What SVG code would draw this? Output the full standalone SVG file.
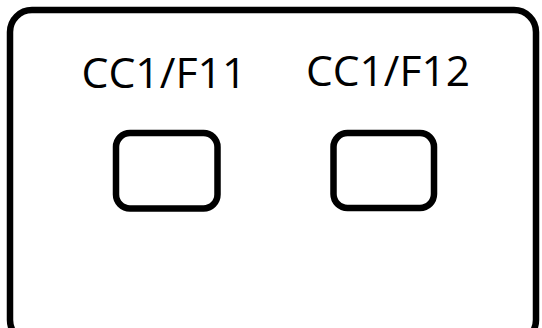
<svg xmlns="http://www.w3.org/2000/svg" width="542" height="328" viewBox="0 0 542 328">
<style>
.frame{fill:#fff;stroke:#000;stroke-width:6.5}
.box{fill:#fff;stroke:#000;stroke-width:6.5}
.lbl{font-family:"Open Sans","Noto Sans","Liberation Sans",sans-serif;font-size:42px;fill:#000}
</style>
<rect x="0" y="0" width="542" height="328" fill="#fff"/>
<g id="panel">
<rect class="frame" x="10" y="10" width="526" height="332" rx="22" ry="22"/>
</g>
<g id="f11">
<text class="lbl" x="81.5" y="88" textLength="165" lengthAdjust="spacingAndGlyphs">CC1/F11</text>
<rect class="box" x="116" y="133" width="101.5" height="75.5" rx="14" ry="14"/>
</g>
<g id="f12">
<text class="lbl" x="306" y="86" textLength="164" lengthAdjust="spacingAndGlyphs">CC1/F12</text>
<rect class="box" x="333.5" y="133" width="100.5" height="75" rx="14" ry="14"/>
</g>
<g id="connectors"/>
</svg>
